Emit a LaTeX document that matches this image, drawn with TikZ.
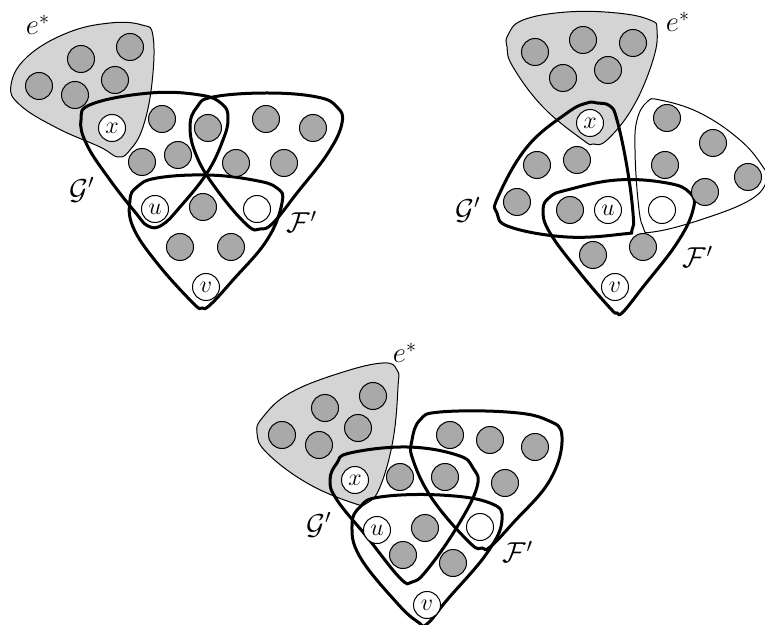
\documentclass[tikz,border=0pt]{standalone}
\usetikzlibrary{positioning}
\definecolor{edgeGray}{HTML}{D4D4D4}
\definecolor{vertGray}{HTML}{A9A9A9}

\begin{document}
\begin{tikzpicture}[x=0.5pt,y=-0.5pt,
  vtx/.style={circle,draw,fill=vertGray,minimum size=13.5pt,inner sep=0pt,line width=0.5pt,font=\large},
  wvtx/.style={vtx,fill=white},
  lbl/.style={font=\Large},
  hedge/.style={line width=1.5pt},
  thinedge/.style={line width=0.5pt},
  estar/.style={draw,fill=edgeGray,line width=0.5pt}]
  \useasboundingbox (0,0) rectangle (765,625);
  % (a) top left
  \begin{scope}[smooth cycle, tension=0.7]
    \filldraw[estar] plot coordinates {(11,85) (27,57) (67,33) (110,23) (142,25) (153,36) (152,83) (143,127) (130,150) (118,157) (100,147) (57,128) (20,105)};
    \draw[hedge] plot coordinates {(81,120) (92,104) (150,93) (200,95) (222,104) (228,118) (223,140) (207,173) (180,207) (162,225) (148,226) (135,212) (110,180) (87,145)};
    \draw[hedge] plot coordinates {(190,127) (197,107) (213,97) (267,93) (317,97) (337,107) (342,123) (328,153) (297,193) (273,223) (260,229) (247,225) (217,190) (197,157)};
    \draw[hedge] plot coordinates {(130,200) (137,187) (157,178) (207,175) (253,180) (277,188) (282,203) (267,240) (233,280) (210,305) (202,308) (193,303) (157,263) (133,227)};
    \foreach \p [count=\i] in {(39,86),(81,59),(130,47),(115,80),(75,95),(162,119),(142,162),(178,155),(208,128),(266,119),(313,128),(236,163),(284,163),(203,207),(180,247),(231,247)}
      \node[vtx] (a\i) at \p {};
    \node[wvtx] (ax) at (112,128) {$x$};
    \node[wvtx] (au) at (155,209) {$u$};
    \node[wvtx] (aw) at (257,209) {};
    \node[wvtx] (av) at (206,287) {$v$};
    \node[lbl] (ae) at (38,25) {$e^*$};
    \node[lbl] (ag) at (82,190) {$\mathcal{G}'$};
    \node[lbl] (af) at (302,222) {$\mathcal{F}'$};
  \end{scope}
  % (b) top right
  \begin{scope}[smooth cycle, tension=0.7]
    \filldraw[estar] plot coordinates {(507,47) (508,35) (523,20) (567,12) (617,13) (650,20) (657,30) (653,60) (633,107) (607,140) (593,144) (583,140) (543,107) (513,67)};
    \draw[hedge] plot coordinates {(597,103) (610,106) (617,120) (627,167) (633,213) (632,230) (623,234) (567,237) (510,227) (497,213) (498,197) (527,147) (567,113) (587,103)};
    \draw[thinedge] plot coordinates {(637,120) (647,102) (660,100) (700,113) (740,140) (763,167) (767,180) (750,200) (700,220) (653,232) (643,227) (638,200) (635,150)};
    \draw[hedge] plot coordinates {(543,210) (550,197) (567,190) (617,180) (667,183) (690,193) (693,210) (677,243) (643,287) (623,312) (617,313) (610,308) (580,273) (550,233)};
    \foreach \p [count=\i] in {(535,52),(583,40),(633,43),(563,78),(608,70),(537,165),(577,160),(517,202),(570,210),(667,118),(713,143),(665,165),(748,177),(705,192),(593,255),(643,247)}
      \node[vtx] (b\i) at \p {};
    \node[wvtx] (bx) at (590,123) {$x$};
    \node[wvtx] (bu) at (608,210) {$u$};
    \node[wvtx] (bw) at (662,210) {};
    \node[wvtx] (bv) at (615,287) {$v$};
    \node[lbl] (be) at (678,22) {$e^*$};
    \node[lbl] (bg) at (468,210) {$\mathcal{G}'$};
    \node[lbl] (bf) at (698,257) {$\mathcal{F}'$};
  \end{scope}
  % (c) bottom
  \begin{scope}[smooth cycle, tension=0.7]
    \filldraw[estar] plot coordinates {(257,433) (263,417) (290,393) (340,373) (383,363) (397,370) (398,387) (393,440) (380,487) (367,503) (353,503) (307,483) (267,453)};
    \draw[hedge] plot coordinates {(330,480) (337,463) (350,453) (407,447) (457,455) (473,468) (477,487) (457,527) (427,570) (412,582) (400,578) (367,537) (337,500)};
    \draw[hedge] plot coordinates {(412,440) (420,420) (440,412) (507,412) (547,420) (562,437) (550,480) (513,523) (490,547) (482,548) (470,543) (433,500) (413,460)};
    \draw[hedge] plot coordinates {(352,525) (360,507) (380,497) (440,495) (490,503) (502,520) (487,553) (447,600) (427,624) (418,622) (397,603) (360,557)};
    \foreach \p [count=\i] in {(282,435),(325,408),(373,396),(358,428),(319,445),(400,477),(445,477),(450,435),(490,440),(535,447),(505,483),(425,528),(403,555),(453,563)}
      \node[vtx] (c\i) at \p {};
    \node[wvtx] (cx) at (355,480) {$x$};
    \node[wvtx] (cu) at (377,530) {$u$};
    \node[wvtx] (cw) at (480,527) {};
    \node[wvtx] (cv) at (427,605) {$v$};
    \node[lbl] (ce) at (405,353) {$e^*$};
    \node[lbl] (cg) at (319,525) {$\mathcal{G}'$};
    \node[lbl] (cf) at (518,552) {$\mathcal{F}'$};
  \end{scope}
\end{tikzpicture}
\end{document}
